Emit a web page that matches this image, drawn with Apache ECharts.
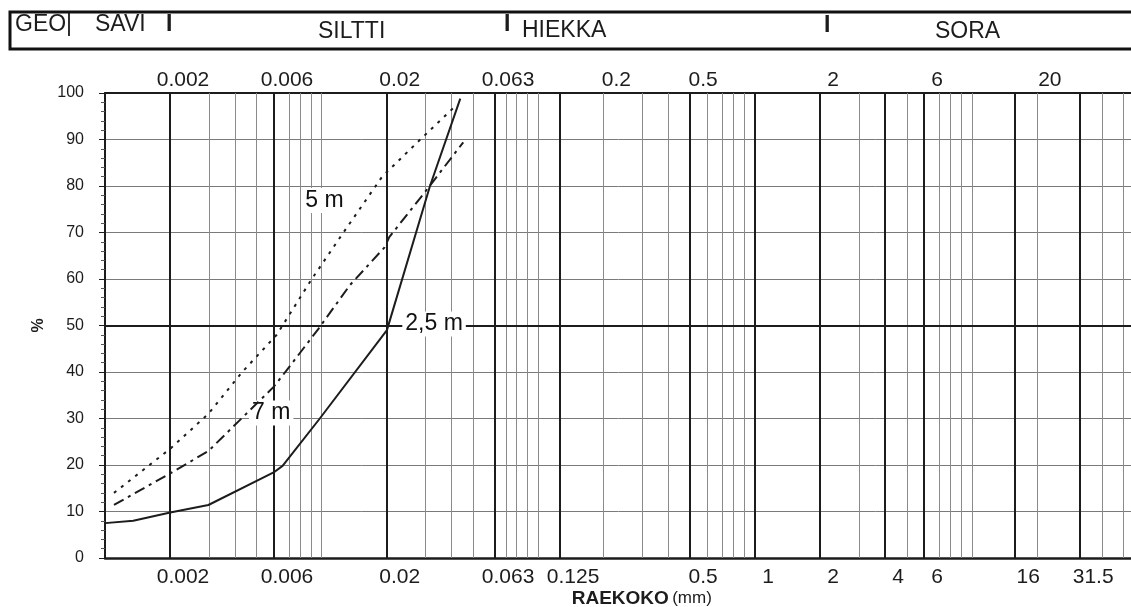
<!DOCTYPE html>
<html>
<head>
<meta charset="utf-8">
<script src="https://cdn.jsdelivr.net/npm/echarts@6/dist/echarts.min.js"></script>
<style>
  html, body { margin: 0; padding: 0; background: #fff; }
  #chart { width: 1131px; height: 607px; }
</style>
</head>
<body>
<div id="chart"></div>
<script>
// raekokokäyrät, x = raekoko (mm), y = läpäisy %
var curve25 = [[0.001, 7.5], [0.00135, 8], [0.002, 9.8], [0.003, 11.4], [0.006, 18.4], [0.0066, 19.8],
    [0.0098, 30], [0.02, 49], [0.0316, 80], [0.0436, 98.8]];
var curve5 = [[0.0011, 14], [0.002, 23.5], [0.003, 31], [0.0043, 40], [0.0062, 48], [0.009, 60],
    [0.0126, 70], [0.019, 82], [0.0285, 90], [0.041, 97]];
var curve7 = [[0.0011, 11.4], [0.002, 18.2], [0.003, 23], [0.0042, 29.7], [0.006, 36.8], [0.0069, 40.4],
    [0.0097, 49.4], [0.0135, 58.7], [0.0195, 66.8], [0.0205, 69], [0.0295, 78.3], [0.045, 89.4]];

// käyrien nimilaput
var curveNames = ['2,5 m', '5 m', '7 m'];
var namePoints = [[0.033, 50.3], [0.0103, 76.9], [0.00585, 31.2]];

// ruudukko
var thickLines = [0.002, 0.006, 0.02, 0.063, 0.125, 0.5, 1, 2, 4, 6, 16, 31.5];
var thinLines = [0.003, 0.004, 0.005, 0.007, 0.008, 0.009, 0.01, 0.03, 0.04, 0.05, 0.07, 0.08, 0.09, 0.1,
    0.2, 0.3, 0.4, 0.6, 0.7, 0.8, 0.9, 3, 5, 7, 8, 9, 10, 20, 40, 50];
var topTicks = [0.002, 0.006, 0.02, 0.063, 0.2, 0.5, 2, 6, 20];
var bottomTicks = [0.002, 0.006, 0.02, 0.063, 0.125, 0.5, 1, 2, 4, 6, 16, 31.5];

// otsikkopalkki
var bands = ['GEO|', 'SAVI', 'I', 'SILTTI', 'I', 'HIEKKA', 'I', 'SORA'];

(function () {
    var font = "'Liberation Sans', Arial, sans-serif";
    var ink = '#1c1c1c';
    var myChart = echarts.init(document.getElementById('chart'));
    var lg = function (v) { return Math.log10(v); };
    var toLog = function (pts) { return pts.map(function (p) { return [lg(p[0]), p[1]]; }); };

    var gridLines = [];
    thickLines.forEach(function (v) {
        gridLines.push({ xAxis: lg(v), lineStyle: { color: ink, width: 2, type: 'solid' } });
    });
    thinLines.forEach(function (v) {
        gridLines.push({ xAxis: lg(v), lineStyle: { color: '#8a8a8a', width: 1, type: 'solid' } });
    });
    gridLines.push({ yAxis: 50, lineStyle: { color: ink, width: 2, type: 'solid' } });

    var tickLabels = [];
    topTicks.forEach(function (v) {
        tickLabels.push({ xAxis: lg(v), label: { show: true, position: 'end', formatter: String(v), distance: 2 } });
    });
    bottomTicks.forEach(function (v) {
        tickLabels.push({ xAxis: lg(v), label: { show: true, position: 'start', formatter: String(v), distance: 9 } });
    });

    // header texts, laid left to right
    var bandX = [15, 95, 166, 318, 504, 522, 824, 935];
    var bandY = [25, 25, 25, 32, 25, 31, 26, 32];
    var graphics = [{
        type: 'rect',
        shape: { x: 10, y: 12, width: 1140, height: 37 },
        style: { fill: null, stroke: '#111', lineWidth: 3 }
    }];
    bands.forEach(function (t, i) {
        graphics.push({
            type: 'text', x: bandX[i], y: bandY[i],
            style: {
                text: t, font: (t === 'I' ? 'bold ' : '') + '23px ' + font,
                fill: ink, textVerticalAlign: 'middle'
            }
        });
    });

    function curve(name, data, dash, idx) {
        return {
            name: name,
            type: 'line',
            data: toLog(data),
            symbol: 'none',
            smooth: false,
            z: 5,
            lineStyle: { color: ink, width: 2, type: dash },
            markPoint: {
                symbol: 'rect',
                symbolSize: 0,
                data: [{ coord: [lg(namePoints[idx][0]), namePoints[idx][1]] }],
                label: {
                    show: true, position: 'inside', formatter: name,
                    fontSize: 23, fontFamily: font, color: '#111',
                    backgroundColor: '#fff', padding: [1, 3]
                }
            }
        };
    }

    var option = {
        animation: false,
        graphic: graphics,
        grid: { left: 105, width: 1083.5, top: 93, bottom: 49, outerBoundsMode: 'none' },
        xAxis: [
            {
                type: 'value', min: -3, max: 2, position: 'bottom',
                axisLine: { show: true, lineStyle: { color: ink, width: 2.5 } },
                axisTick: { show: false }, axisLabel: { show: false }, splitLine: { show: false },
                name: '{b|RAEKOKO} {s|(mm)}', nameLocation: 'middle', nameGap: 31,
                nameTextStyle: {
                    padding: [0, 10, 0, 0],
                    rich: {
                        b: { fontSize: 19, fontWeight: 'bold', fontFamily: font, color: ink },
                        s: { fontSize: 17, fontFamily: font, color: ink }
                    }
                }
            },
            {
                type: 'value', min: -3, max: 2, position: 'top',
                axisLine: { show: true, lineStyle: { color: ink, width: 2 } },
                axisTick: { show: false }, axisLabel: { show: false }, splitLine: { show: false }
            }
        ],
        yAxis: {
            type: 'value', min: 0, max: 100, interval: 10,
            axisLine: { show: true, onZero: false, lineStyle: { color: ink, width: 2 } },
            axisTick: { show: true, length: 6, lineStyle: { color: ink } },
            minorTick: { show: true, splitNumber: 5, length: 4, lineStyle: { color: '#555' } },
            axisLabel: { fontSize: 16, fontFamily: font, color: ink, margin: 21 },
            splitLine: { show: true, lineStyle: { color: '#7a7a7a', width: 1 } },
            name: '%', nameLocation: 'middle', nameGap: 56, nameRotate: 90,
            nameTextStyle: { fontSize: 16, fontWeight: 'bold', fontFamily: font, color: ink }
        },
        series: [
            {
                name: 'grid', type: 'line', data: [], z: 1, silent: true,
                markLine: { silent: true, symbol: ['none', 'none'], label: { show: false }, data: gridLines }
            },
            {
                name: 'ticks', type: 'line', data: [], z: 1, silent: true,
                markLine: {
                    silent: true, symbol: ['none', 'none'],
                    lineStyle: { color: 'rgba(0,0,0,0)', width: 0 },
                    label: { fontSize: 21, fontFamily: font, color: ink, padding: [0, 0, 0, 26] },
                    data: tickLabels
                }
            },
            curve(curveNames[0], curve25, 'solid', 0),
            curve(curveNames[1], curve5, [3, 6], 1),
            curve(curveNames[2], curve7, [11, 5, 3, 5], 2)
        ]
    };
    myChart.setOption(option);
    window.addEventListener('resize', function () {
        myChart.resize();
    });
})();
</script>
</body>
</html>
